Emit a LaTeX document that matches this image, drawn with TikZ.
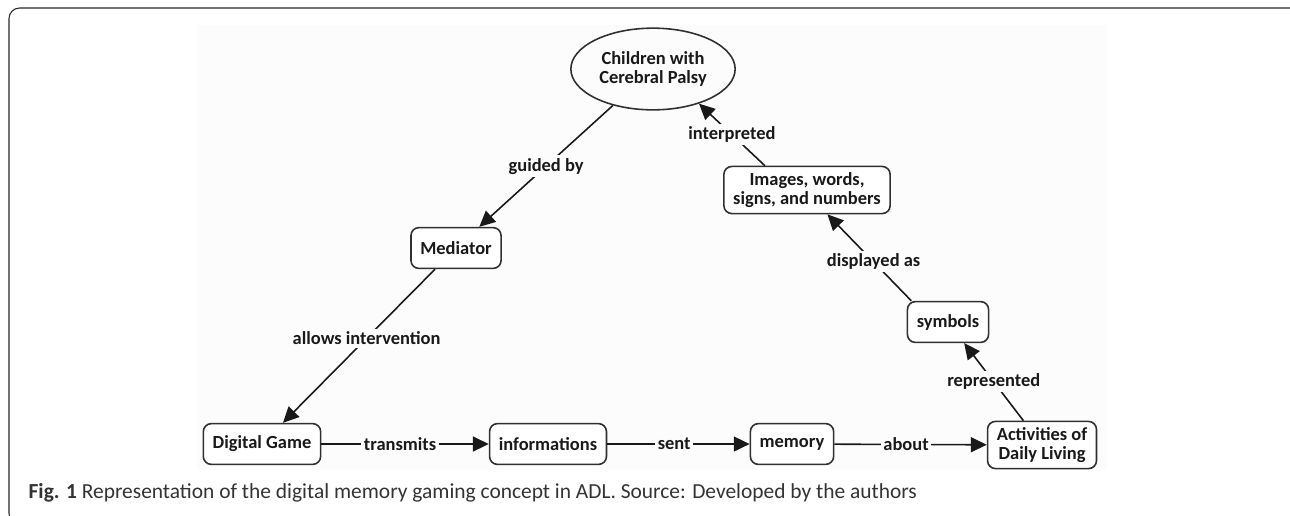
\documentclass[tikz,border=0pt]{standalone}
\usepackage{fontspec}
\setmainfont{Carlito}
\usetikzlibrary{arrows.meta,shapes.geometric}
\definecolor{figbg}{RGB}{252,252,252}
\definecolor{ink}{RGB}{25,25,25}

\begin{document}
\begin{tikzpicture}[x=0.02cm, y=-0.02cm, font=\fontsize{10.5}{11}\selectfont\bfseries, line width=0.9pt,
	concept/.style={draw=ink!90, rounded corners=4.5pt, fill=white, inner xsep=5.3pt, minimum height=23.2pt, align=center, text=ink},
	link/.style={fill=figbg, inner sep=1.5pt, text=ink},
	arr/.style={-{Triangle[length=9pt,width=8.5pt]}, ink}]
		\useasboundingbox (0,0) rectangle (1290,515);
		\clip (0,0) rectangle (1290,515);
		\draw[line width=0.6pt, rounded corners=6pt, black!85] (9,8) rectangle (1302,524);
		\fill[figbg] (197,25) rectangle (1107,470);

		\node[ellipse, draw=ink!90, minimum width=93.5pt, minimum height=46.5pt, align=center, inner sep=0pt, text=ink] (cp) at (653,69) {Children with\\Cerebral Palsy};
		\node[concept] (med) at (456,248) {Mediator};
		\node[concept] (game) at (262,444) {Digital Game};
		\node[concept] (info) at (548,444) {informations};
		\node[concept] (mem) at (792,444) {memory};
		\node[concept] (adl) at (1042,445) {Activities of\\Daily Living};
		\node[concept] (sym) at (948,322) {symbols};
		\node[concept] (img) at (807,190) {Images, words,\\signs, and numbers};

		\draw[arr] (cp) to node[link] {guided by} (med);
		\draw[arr] (med) to node[link, pos=0.45] {allows intervention} (game);
		\draw[arr] (game) to node[link, pos=0.47] {transmits} (info);
		\draw[arr] (info) to node[link, pos=0.47] {sent} (mem);
		\draw[arr] (mem) to node[link, pos=0.47] {about} (adl);
		\draw[arr] (adl) to node[link] {represented} (sym);
		\draw[arr] (sym.150) to node[link, pos=0.45] {displayed as} (img.-50);
		\draw[arr] (img.150) to node[link] {interpreted} (cp.-37);

		\node[anchor=west, font=\fontsize{12.2}{14}\selectfont\mdseries, text=black!80] (cap) at (22,493) {\textbf{Fig. 1} Representation of the digital memory gaming concept in ADL. Source: Developed by the authors};
\end{tikzpicture}
\end{document}
